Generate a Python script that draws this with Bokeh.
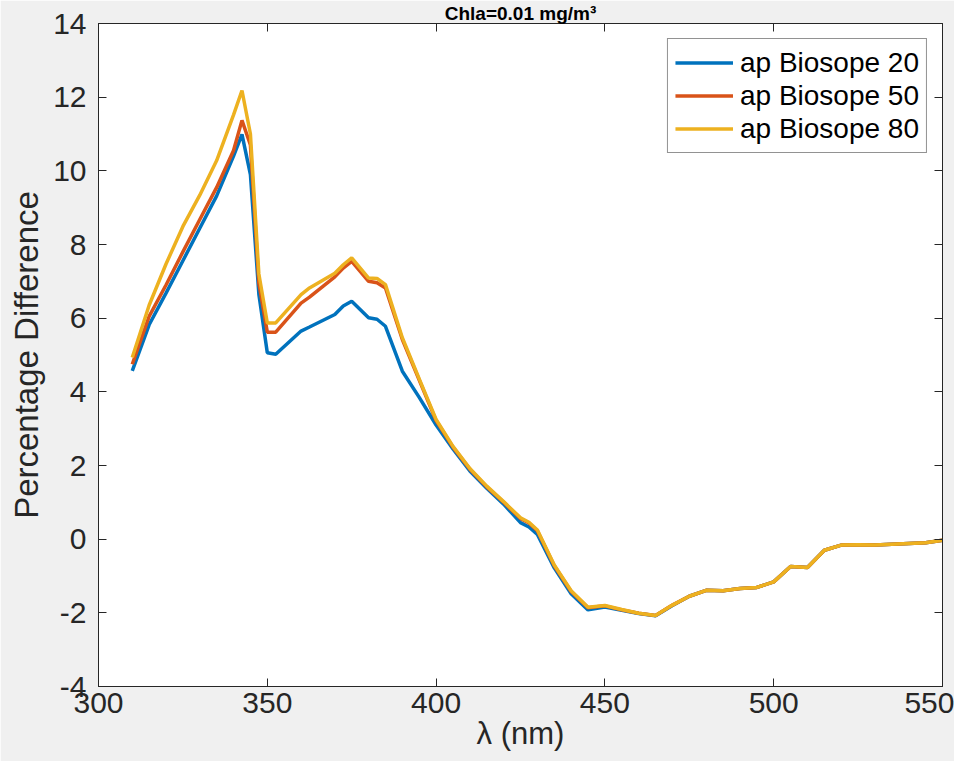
from bokeh.plotting import figure
from bokeh.models import LinearAxis, FixedTicker, Range1d
from bokeh.embed import file_html
from bokeh.resources import INLINE

# ---- data ----
wavelength = [310, 315, 320, 325, 330, 335, 340, 342.5, 345, 347.5, 350, 352.5,
              360, 362.5, 370, 372.5, 375, 380, 382.5, 385, 390, 395, 400, 405,
              410, 415, 420, 425, 427.5, 430, 435, 440, 445, 450, 455, 460, 465,
              470, 475, 480, 485, 490, 495, 500, 505, 510, 515, 520, 525, 530,
              535, 540, 545, 550]

ap_biosope_20 = [4.57, 5.82, 6.68, 7.56, 8.44, 9.32, 10.40, 10.99, 9.90, 6.65, 5.06, 5.02,
                 5.65, 5.76, 6.10, 6.33, 6.46, 6.01, 5.97, 5.78, 4.56, 3.85, 3.10, 2.45,
                 1.85, 1.38, 0.95, 0.45, 0.33, 0.13, -0.78, -1.48, -1.92, -1.84, -1.93, -2.02, -2.08,
                 -1.80, -1.55, -1.39, -1.40, -1.34, -1.31, -1.16, -0.74, -0.77, -0.30, -0.16, -0.15, -0.16,
                 -0.14, -0.12, -0.10, -0.03]

ap_biosope_50 = [4.75, 6.05, 6.90, 7.80, 8.68, 9.55, 10.55, 11.37, 10.70, 6.95, 5.62, 5.62,
                 6.41, 6.57, 7.12, 7.36, 7.54, 7.00, 6.96, 6.82, 5.42, 4.32, 3.22, 2.50,
                 1.90, 1.42, 1.00, 0.56, 0.44, 0.23, -0.72, -1.42, -1.86, -1.81, -1.92, -2.01, -2.07,
                 -1.79, -1.55, -1.39, -1.40, -1.34, -1.31, -1.16, -0.74, -0.77, -0.30, -0.16, -0.15, -0.16,
                 -0.14, -0.12, -0.10, -0.03]

ap_biosope_80 = [4.93, 6.35, 7.47, 8.49, 9.34, 10.28, 11.52, 12.18, 11.00, 7.20, 5.87, 5.87,
                 6.64, 6.82, 7.22, 7.45, 7.64, 7.09, 7.08, 6.91, 5.47, 4.35, 3.25, 2.52,
                 1.92, 1.44, 1.02, 0.58, 0.46, 0.25, -0.70, -1.40, -1.85, -1.80, -1.91, -2.01, -2.07,
                 -1.79, -1.55, -1.39, -1.40, -1.34, -1.31, -1.16, -0.74, -0.77, -0.30, -0.16, -0.15, -0.16,
                 -0.14, -0.12, -0.10, -0.03]

series_names = ["ap Biosope 20", "ap Biosope 50", "ap Biosope 80"]
series_colors = ["#0072BD", "#D95319", "#EDB120"]

x_ticks = [300, 350, 400, 450, 500, 550]
x_tick_labels = ["300", "350", "400", "450", "500", "550"]
y_ticks = [-4, -2, 0, 2, 4, 6, 8, 10, 12, 14]
y_tick_labels = ["-4", "-2", "0", "2", "4", "6", "8", "10", "12", "14"]

title_text = "Chla=0.01 mg/m³"
x_label = "λ (nm)"
y_label = "Percentage Difference"

FONT = "Liberation Sans"
AX = "#262626"

p = figure(width=954, height=761, output_backend="svg", toolbar_location=None,
           x_range=Range1d(300, 550), y_range=Range1d(-4, 14),
           min_border_left=98, min_border_right=12, min_border_top=22,
           min_border_bottom=75)
p.background_fill_color = "white"
p.border_fill_color = "#f0f0f0"
p.outline_line_color = AX
p.outline_line_width = 1
p.xgrid.visible = False
p.ygrid.visible = False

p.title.text = title_text
p.title.align = "center"
p.title.text_font = FONT
p.title.text_font_size = "19px"
p.title.text_font_style = "bold"
p.title.text_color = "#000000"
p.title.standoff = 0
p.title.offset = 0

for values, name, color in zip([ap_biosope_20, ap_biosope_50, ap_biosope_80],
                               series_names, series_colors):
    p.line(wavelength, values, line_color=color, line_width=3.5, legend_label=name)

def style_axis(ax):
    ax.major_tick_in = 8
    ax.major_tick_out = 0
    ax.minor_tick_line_color = None
    ax.axis_line_color = AX
    ax.major_tick_line_color = AX
    ax.major_label_text_font = FONT
    ax.major_label_text_color = AX

xa = p.xaxis[0]
xa.ticker = FixedTicker(ticks=x_ticks)
xa.major_label_overrides = dict(zip(x_ticks, x_tick_labels))
style_axis(xa)
xa.major_label_text_font_size = "30px"
xa.major_label_standoff = 6
xa.axis_label = x_label
xa.axis_label_text_font = FONT
xa.axis_label_text_font_size = "31px"
xa.axis_label_text_font_style = "normal"
xa.axis_label_text_color = AX
xa.axis_label_standoff = 0

ya = p.yaxis[0]
ya.ticker = FixedTicker(ticks=y_ticks)
ya.major_label_overrides = dict(zip(y_ticks, y_tick_labels))
style_axis(ya)
ya.major_label_text_font_size = "30px"
ya.major_label_standoff = 12
ya.axis_label = y_label
ya.axis_label_text_font = FONT
ya.axis_label_text_font_size = "33px"
ya.axis_label_text_font_style = "normal"
ya.axis_label_text_color = AX
ya.axis_label_standoff = 5

for side, ticks in (("right", y_ticks), ("above", x_ticks)):
    ax = LinearAxis(ticker=FixedTicker(ticks=ticks))
    style_axis(ax)
    ax.major_label_text_font_size = "0px"
    ax.major_label_standoff = 0
    ax.major_label_overrides = {t: "" for t in ticks}
    p.add_layout(ax, side)

lg = p.legend[0]
lg.location = "top_right"
lg.margin = 15
lg.padding = 7
lg.spacing = 0
lg.glyph_width = 58
lg.glyph_height = 33
lg.label_height = 33
lg.label_standoff = 7
lg.label_text_font = FONT
lg.label_text_font_size = "28px"
lg.label_text_color = "#000000"
lg.border_line_color = AX
lg.border_line_width = 1
lg.background_fill_color = "white"
lg.background_fill_alpha = 1

open("out.html", "w").write(file_html(p, INLINE))
